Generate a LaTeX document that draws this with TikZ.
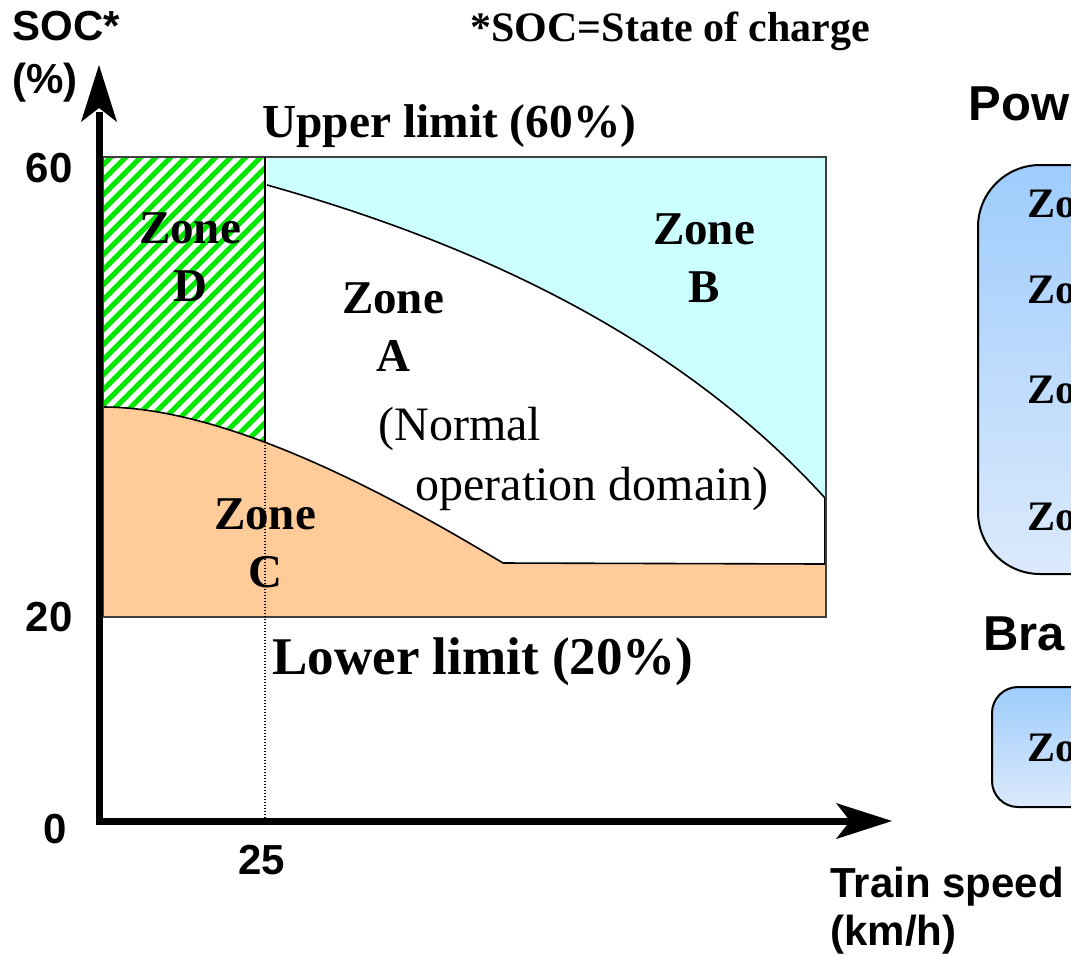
\documentclass[tikz,border=0pt]{standalone}
\usepackage{fontspec}
\setmainfont{Liberation Serif}
\newfontfamily\axisfont{Liberation Sans}
\definecolor{zoneB}{RGB}{204,255,255}
\definecolor{zoneC}{RGB}{255,204,153}
\definecolor{hatchgreen}{RGB}{0,232,0}
\definecolor{boxtop}{RGB}{158,204,252}
\definecolor{boxbottom}{RGB}{220,234,252}
\begin{document}
\begin{tikzpicture}[x=0.5pt,y=-0.5pt,
  axislabel/.style={font=\axisfont\bfseries\fontsize{21}{25}\selectfont, inner sep=0},
  heading/.style={font=\axisfont\bfseries\fontsize{24.5}{29}\selectfont, inner sep=0, anchor=base west},
  zonelabel/.style={font=\bfseries\fontsize{23.5}{29}\selectfont, align=center, inner sep=0},
  plaintext/.style={font=\fontsize{24}{29}\selectfont, inner sep=0, anchor=base west},
  limitlabel/.style={font=\bfseries\fontsize{#1}{30}\selectfont, inner sep=0, anchor=base west},
  boxlabel/.style={font=\bfseries\fontsize{21}{25}\selectfont, inner sep=0, anchor=base west},
  boundary/.style={draw=black, line width=0.8pt},
  frame/.style={draw=black!75, line width=0.75pt},
  hatchline/.style={draw=hatchgreen, line width=2.6pt},
  axisline/.style={line width=3.5pt, line join=miter},
  modebox/.style={draw=black, line width=1pt, top color=boxtop, bottom color=boxbottom,
                  inner sep=0, anchor=north west},
]
\useasboundingbox (0,0) rectangle (1071,955);
\clip (0,0) rectangle (1071,955);
\fill[white] (0,0) rectangle (1071,955);

% chart corner points
\coordinate (origin) at (99,821);
\coordinate (ytip) at (99,65);
\coordinate (xtip) at (892,821);

% boundary curves
\def\upperbound{(267,185) .. controls (467,241) and (675,333) .. (825,498)}
\def\lowerbound{(103,407) .. controls (233,407) and (403,503) .. (503,563)}

% Zone B (upper right, above the normal domain)
\fill[zoneB] (267,157) -- \upperbound -- (826,498) -- (826,157) -- cycle;

% Zone D (low speed, hatched)
\begin{scope}
  \clip (103,157) rectangle (265,470);
  \foreach \k in {-23,...,12}
    \draw[hatchline] ({103+\k*15},480) -- ++(340,-340);
\end{scope}

% Zone C (low state of charge)
\fill[zoneC] (103,617) -- \lowerbound -- (826,564) -- (826,617) -- cycle;

% zone boundaries
\draw[boundary] \upperbound;
\draw[boundary] \lowerbound;
\draw[boundary] (825,498) -- (825,564) -- (503,563);
\draw[boundary] (265,157) -- (265,442);

% chart frame between the limits
\draw[frame] (103,157) rectangle (826,617);

% 25 km/h marker
\draw[line width=0.6pt, dash pattern=on 0.6pt off 0.9pt] (265,157) -- (265,818);

% axes
\draw[axisline] (99,112) -- (origin) -- (850,821);
\fill (ytip) -- (117,122) -- (99,108) -- (81,122) -- cycle;
\fill (xtip) -- (836,839) -- (850,821) -- (836,803) -- cycle;

% axis labels
\node[axislabel, anchor=base west] (soc) at (12,40) {SOC*};
\node[axislabel, anchor=base west] (pct) at (12,93) {(\%)};
\node[axislabel, anchor=base east] (t60) at (73,182) {60};
\node[axislabel, anchor=base east] (t20) at (73,631) {20};
\node[axislabel, anchor=base east] (t0) at (67,843) {0};
\node[axislabel, anchor=base] (t25) at (262,874) {25};
\node[axislabel, anchor=base west] (speed) at (830,897) {Train speed};
\node[axislabel, anchor=base west] (kmh) at (830,945) {(km/h)};

\node[limitlabel=21, anchor=base west] (note) at (470,41) {*SOC=State of charge};
\node[limitlabel=23.7] (upper) at (262,137) {Upper limit (60\%)};
\node[limitlabel=26.5] (lower) at (272,674) {Lower limit (20\%)};

% zone labels
\node[zonelabel] (zD) at (190,257.5) {Zone\\D};
\node[zonelabel] (zB) at (704,258) {Zone\\B};
\node[zonelabel] (zA) at (393,327) {Zone\\A};
\node[zonelabel] (zC) at (265,543) {Zone\\C};
\node[plaintext] (normal1) at (378,440) {(Normal};
\node[plaintext] (normal2) at (415,500) {operation domain)};

% mode panels on the right
\node[heading] (powhead) at (968,120) {Pow};
\node[modebox, minimum width=150pt, minimum height=204.5pt, rounded corners=31pt] (powerbox) at (977,164) {};
\node[boxlabel] (p1) at (1027,217) {Zo};
\node[boxlabel] (p2) at (1027,303) {Zo};
\node[boxlabel] (p3) at (1027,403) {Zo};
\node[boxlabel] (p4) at (1027,530) {Zo};

\node[heading] (brahead) at (983,650) {Bra};
\node[modebox, minimum width=150pt, minimum height=60pt, rounded corners=13pt] (brakebox) at (991,686) {};
\node[boxlabel] (b1) at (1027,761) {Zo};
\end{tikzpicture}
\end{document}
